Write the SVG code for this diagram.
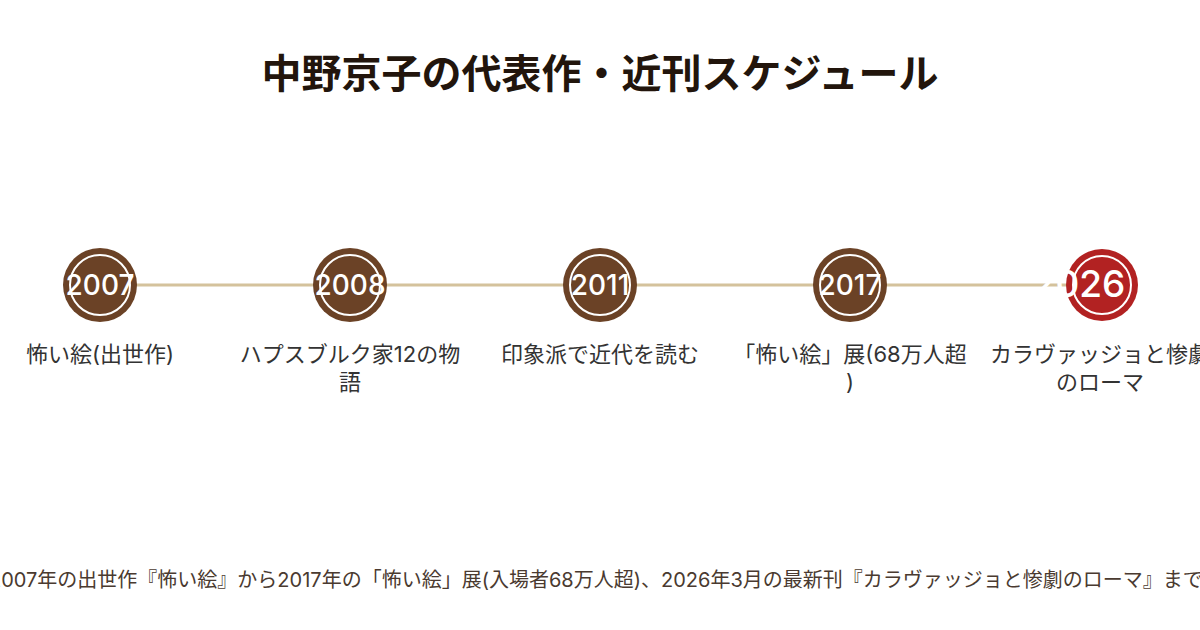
<svg xmlns="http://www.w3.org/2000/svg" width="1200" height="630" viewBox="0 0 1200 630">
<style>
text{font-family:Inter,"Noto Sans CJK JP","Noto Sans",sans-serif}
.title{font-size:40px;font-weight:700;fill:#22150c}
.yr{font-size:28px;fill:#fff;font-weight:500}
.lbl{font-size:22px;fill:#333}
.cap{font-size:20px;fill:#4a3a30}
.dot{fill:#6b4226}
.ring{fill:none;stroke:#fff;stroke-width:2}
</style>
<rect width="1200" height="630" fill="#fff"/>
<text class="title" x="600" y="88" text-anchor="middle">中野京子の代表作・近刊スケジュール</text>
<g id="connectors">
<line x1="100" y1="285" x2="1100" y2="285" stroke="#d4c29c" stroke-width="3"/>
</g>
<g id="n2007">
<circle class="dot" cx="100" cy="285" r="37"/>
<circle class="ring" cx="100" cy="285" r="30"/>
<text class="yr" x="100" y="295" text-anchor="middle">2007</text>
<text class="lbl" x="100" y="362" text-anchor="middle">怖い絵(出世作)</text>
</g>
<g id="n2008">
<circle class="dot" cx="350" cy="285" r="37"/>
<circle class="ring" cx="350" cy="285" r="30"/>
<text class="yr" x="350" y="295" text-anchor="middle">2008</text>
<text class="lbl" x="350" y="362" text-anchor="middle">ハプスブルク家12の物</text>
<text class="lbl" x="350" y="390" text-anchor="middle">語</text>
</g>
<g id="n2011">
<circle class="dot" cx="600" cy="285" r="37"/>
<circle class="ring" cx="600" cy="285" r="30"/>
<text class="yr" x="600" y="295" text-anchor="middle">2011</text>
<text class="lbl" x="600" y="362" text-anchor="middle">印象派で近代を読む</text>
</g>
<g id="n2017">
<circle class="dot" cx="850" cy="285" r="37"/>
<circle class="ring" cx="850" cy="285" r="30"/>
<text class="yr" x="850" y="295" text-anchor="middle">2017</text>
<text class="lbl" x="850" y="362" text-anchor="middle">「怖い絵」展(68万人超</text>
<text class="lbl" x="850" y="390" text-anchor="middle">)</text>
</g>
<g id="n2026">
<circle cx="1102" cy="285" r="36" fill="#b22222"/>
<circle class="ring" cx="1102" cy="285" r="29"/>
<text class="yr" x="1079" y="297" text-anchor="middle" style="font-size:37px">2026</text>
<text class="lbl" x="1100" y="362" text-anchor="middle">カラヴァッジョと惨劇</text>
<text class="lbl" x="1100" y="390" text-anchor="middle">のローマ</text>
</g>
<text class="cap" x="-11" y="587">2007年の出世作『怖い絵』から2017年の「怖い絵」展(入場者68万人超)、2026年3月の最新刊『カラヴァッジョと惨劇のローマ』まで</text>
</svg>
